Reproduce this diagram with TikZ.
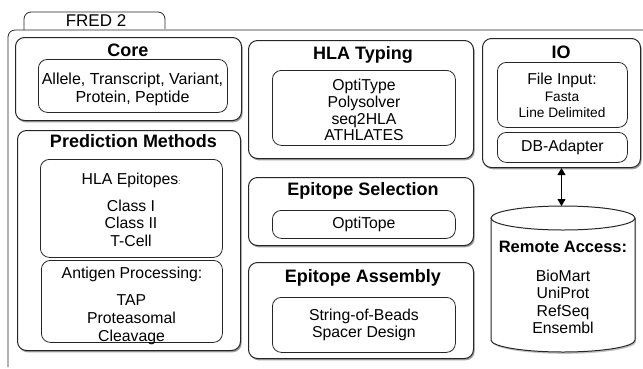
\documentclass[tikz,border=0pt]{standalone}
\usepackage{fontspec}
\setmainfont{Liberation Sans}
\usetikzlibrary{shadows,arrows.meta}

\tikzset{
  box/.style={draw=black!85, line width=1pt, rounded corners=9pt, fill=white, anchor=north west,
    drop shadow={shadow xshift=1.2pt, shadow yshift=-1.8pt, opacity=0.55, fill=black!70}},
  inbox/.style={draw=black!85, line width=0.8pt, rounded corners=9pt, anchor=north west},
  title/.style={font=\bfseries\fontsize{18}{20}\selectfont, inner sep=0pt},
  txt/.style={font=\fontsize{15.8}{17.5}\selectfont, align=center, inner sep=0pt},
  small/.style={font=\fontsize{13.7}{16}\selectfont, align=center, inner sep=0pt}
}

\begin{document}
\begin{tikzpicture}[x=1pt, y=-1pt]

\useasboundingbox (0,0) rectangle (643,368);

\draw[black!85, line width=0.8pt, rounded corners=7pt] (24,30) -- (24,12) -- (165,12) -- (165,29);
\node[txt, font=\fontsize{17}{19}\selectfont] (fred) at (96,21) {FRED 2};
\draw[black!85, line width=0.8pt, rounded corners=7pt] (8,367) -- (8,30) -- (645,30);

\node[box, minimum width=226, minimum height=83] (core) at (15,37) {};
\node[title] (coretitle) at (128,50) {Core};
\node[inbox, minimum width=189, minimum height=53] (coretypes) at (38,59) {};
\node[txt, font=\fontsize{16}{18}\selectfont] (coretext) at (132.5,89.5) {Allele, Transcript, Variant,\\Protein, Peptide};

\node[box, minimum width=223, minimum height=220] (pred) at (17,130) {};
\node[title] (predtitle) at (133.5,141) {Prediction Methods};
\node[inbox, minimum width=182, minimum height=98] (hlaepi) at (40,159) {};
\node[txt] (hlaepititle) at (131,180) {HLA Epitopes{\scriptsize:}};
\node[txt] (hlaepitext) at (131,223) {Class I\\Class II\\T-Cell};
\node[inbox, minimum width=181, minimum height=82] (antigen) at (41,260) {};
\node[txt] (antigentitle) at (132,274) {Antigen Processing:};
\node[txt, font=\fontsize{15.8}{18}\selectfont] (antigentext) at (131.5,320) {TAP\\Proteasomal\\Cleavage};

\node[box, minimum width=225, minimum height=118] (typing) at (248,40) {};
\node[title] (typingtitle) at (363,55) {HLA Typing};
\node[inbox, minimum width=183, minimum height=75] (typingtools) at (272,70) {};
\node[txt, font=\fontsize{15.8}{16.7}\selectfont] (typingtext) at (364,110) {OptiType\\Polysolver\\seq2HLA\\ATHLATES};

\node[box, minimum width=225, minimum height=68] (selection) at (248,177) {};
\node[title] (selectiontitle) at (363,191) {Epitope Selection};
\node[inbox, minimum width=183, minimum height=28] (optitope) at (272,210) {};
\node[txt] (optitopetext) at (optitope.center) {OptiTope};

\node[box, minimum width=225, minimum height=96] (assembly) at (248,262) {};
\node[title] (assemblytitle) at (363,278) {Epitope Assembly};
\node[inbox, minimum width=183, minimum height=55] (assemblytools) at (272,297) {};
\node[txt, font=\fontsize{15.8}{17}\selectfont] (assemblytext) at (assemblytools.center) {String-of-Beads\\Spacer Design};

\node[box, minimum width=158, minimum height=129] (io) at (482,38) {};
\node[title] (iotitle) at (561,52) {IO};
\node[inbox, minimum width=130, minimum height=65] (fileinput) at (497,62) {};
\node[txt] (fileinputtitle) at (562,80) {File Input:};
\node[small] (fileinputtext) at (562,105) {Fasta\\Line Delimited};
\node[inbox, minimum width=130, minimum height=30] (dbadapter) at (497,132) {};
\node[txt] (dbadaptertext) at (dbadapter.center) {DB-Adapter};

\draw[black!85, line width=1pt, fill=white,
  drop shadow={shadow xshift=1.2pt, shadow yshift=-1.8pt, opacity=0.4, fill=black!60}]
  (491,218) -- (491,340) arc[start angle=180, end angle=360, x radius=72pt, y radius=12pt]
  -- (635,218) arc[start angle=0, end angle=180, x radius=72pt, y radius=12pt] -- cycle;
\draw[black!85, line width=1pt] (491,218) arc[start angle=180, end angle=360, x radius=72pt, y radius=12pt];
\coordinate (remotetop) at (563,206);
\node[title, font=\bfseries\fontsize{16.5}{18}\selectfont] (remotetitle) at (563,247) {Remote Access:};
\node[txt, font=\fontsize{15.8}{17.5}\selectfont] (remotetext) at (563,302) {BioMart\\UniProt\\RefSeq\\Ensembl};

\draw[{Triangle[width=8pt,length=7pt]}-{Triangle[width=8pt,length=7pt]}, line width=1pt]
  (io.south) -- (io.south |- remotetop);

\end{tikzpicture}
\end{document}
